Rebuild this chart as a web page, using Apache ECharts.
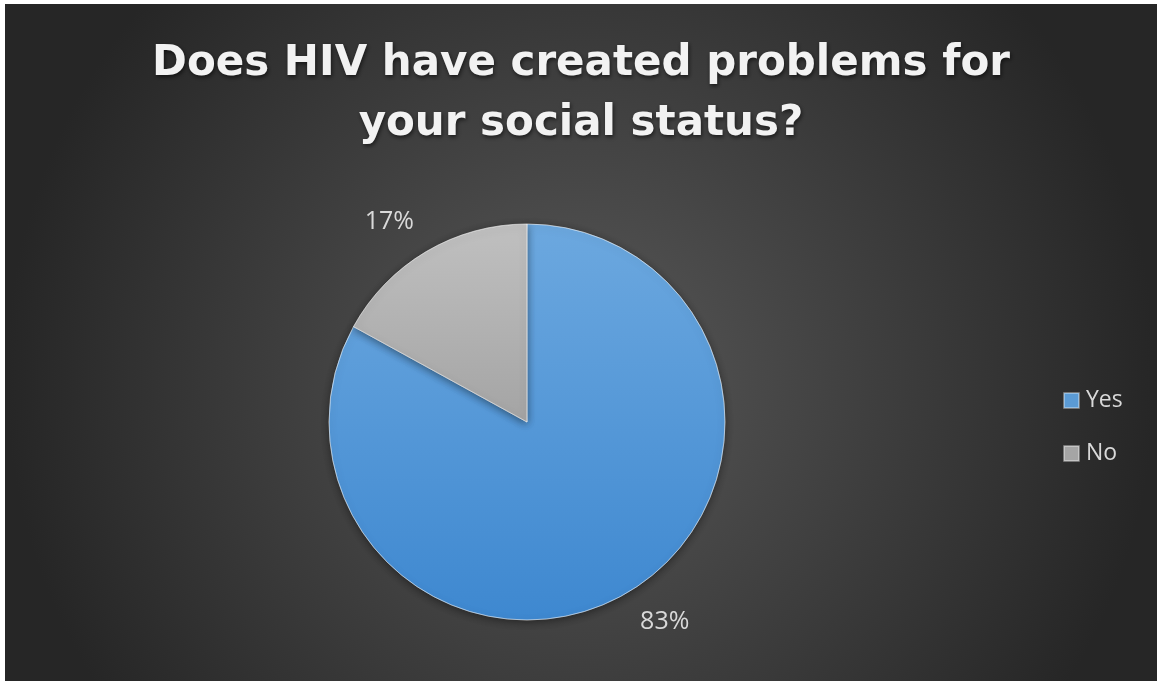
<!DOCTYPE html>
<html>
<head>
<meta charset="utf-8">
<script src="https://cdn.jsdelivr.net/npm/echarts@6/dist/echarts.min.js"></script>
<style>
  html, body { margin: 0; padding: 0; background: #ffffff; }
  #chart { position: absolute; left: 5px; top: 4px; width: 1152px; height: 677px; }
</style>
</head>
<body>
<div id="chart"></div>
<script>
// Survey answers
const categories = ['Yes', 'No'];
const shares = [83, 17];
const titleText = 'Does HIV have created problems for\nyour social status?';

const sliceFills = [
  { type: 'linear', x: 0, y: 0, x2: 0, y2: 1,
    colorStops: [{ offset: 0, color: '#6ca8df' }, { offset: 1, color: '#3e88d0' }] },
  { type: 'linear', x: 0, y: 0, x2: 0, y2: 1,
    colorStops: [{ offset: 0, color: '#c0c0c0' }, { offset: 1, color: '#a4a4a4' }] }
];
const legendColors = ['#5b9bd5', '#a5a5a5'];

const chart = echarts.init(document.getElementById('chart'));
chart.setOption({
  backgroundColor: {
    type: 'radial', x: 0.5, y: 0.55, r: 0.85,
    colorStops: [{ offset: 0, color: '#585858' }, { offset: 1, color: '#262626' }]
  },
  title: {
    text: titleText,
    left: 'center',
    top: 25,
    textStyle: {
      fontFamily: 'DejaVu Sans',
      fontWeight: 'bold',
      fontSize: 42,
      lineHeight: 60,
      color: '#f2f2f2',
      textShadowColor: 'rgba(0,0,0,0.6)',
      textShadowBlur: 4,
      textShadowOffsetX: 1,
      textShadowOffsetY: 2
    }
  },
  legend: {
    orient: 'vertical',
    left: 1053,
    top: 380,
    itemWidth: 15,
    itemHeight: 15,
    itemGap: 30,
    icon: 'rect',
    textStyle: { fontFamily: 'Open Sans', fontSize: 23, color: '#d9d9d9', padding: [0, 0, 0, 2] },
    data: categories.map((name, i) => ({ name, itemStyle: { color: legendColors[i] } }))
  },
  series: [{
    type: 'pie',
    center: [522, 418],
    radius: 198,
    startAngle: 90,
    clockwise: true,
    avoidLabelOverlap: false,
    label: {
      show: true,
      position: 'outside',
      formatter: '{c}%',
      fontFamily: 'Open Sans',
      fontSize: 25,
      color: '#d9d9d9',
      distanceToLabelLine: -5
    },
    labelLine: { show: false, length: 34, length2: 0 },
    itemStyle: {
      borderColor: 'rgba(255,255,255,0.35)',
      borderWidth: 1,
      shadowColor: 'rgba(0,0,0,0.45)',
      shadowBlur: 8,
      shadowOffsetY: 2
    },
    emphasis: { disabled: true },
    data: categories.map((name, i) => ({
      name, value: shares[i], itemStyle: { color: sliceFills[i] }
    }))
  }]
});
</script>
</body>
</html>
